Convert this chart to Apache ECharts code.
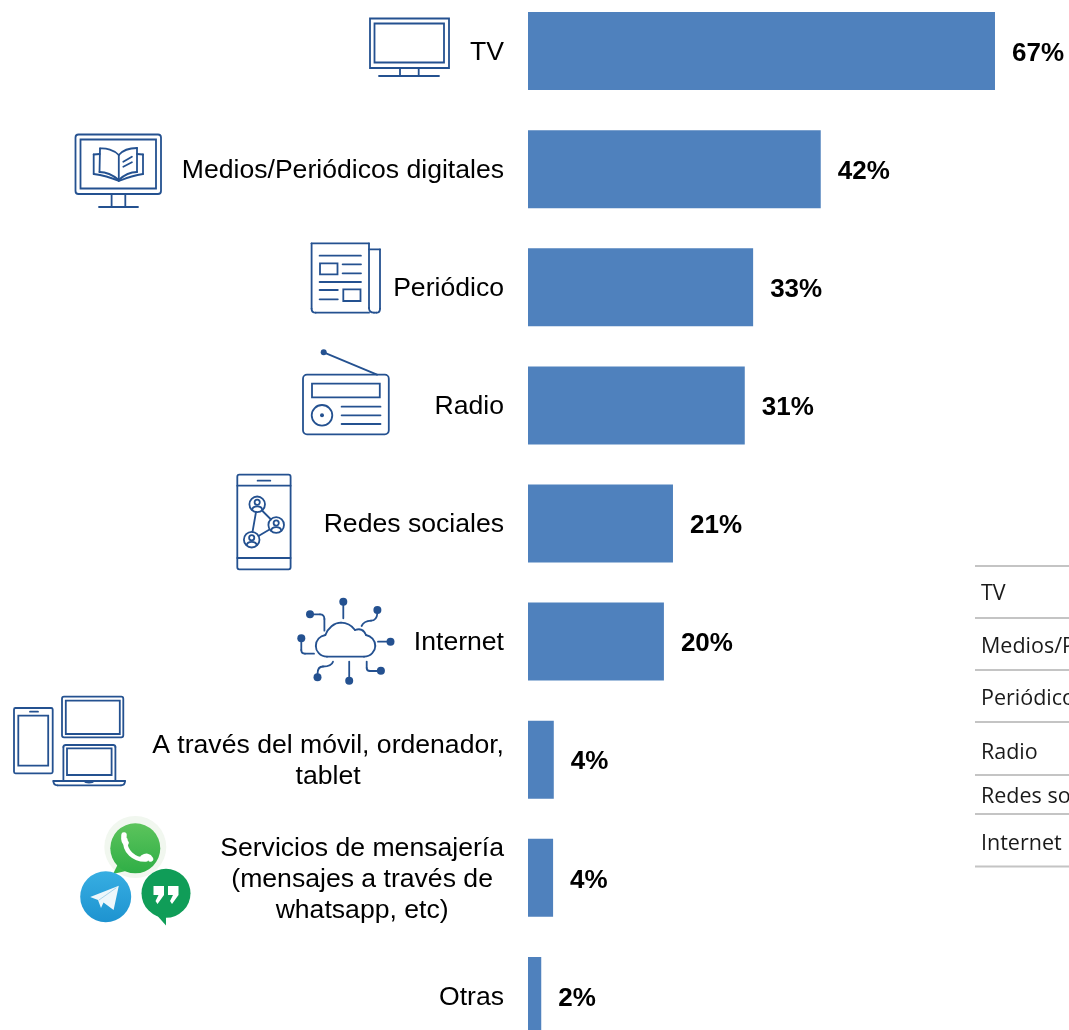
<!DOCTYPE html>
<html>
<head>
<meta charset="utf-8">
<script src="https://cdn.jsdelivr.net/npm/echarts@6/dist/echarts.min.js"></script>
<style>html,body{margin:0;padding:0;background:#fff}#c{width:1069px;height:1030px}</style>
</head>
<body>
<div id="c"></div>
<script>
const categories = ['TV','Medios/Periódicos digitales','Periódico','Radio','Redes sociales','Internet','A través del móvil, ordenador,\ntablet','Servicios de mensajería\n(mensajes a través de\nwhatsapp, etc)','Otras'];
const values = [67, 42, 32.3, 31.1, 20.8, 19.5, 3.7, 3.6, 1.9];
const valueLabels = ['67%','42%','33%','31%','21%','20%','4%','4%','2%'];
const tableRows = ['TV','Medios/Periódicos digitales','Periódico','Radio','Redes sociales','Internet'];
const tableRowY = [594, 646.5, 699, 752.5, 796.5, 844];
const tableRuleY = [566, 618, 670, 722, 775, 814, 866.5];

const ink = '#245190', LW = 1.8;
const g = [];
const st = (o) => Object.assign({stroke: ink, lineWidth: LW, fill: 'none'}, o || {});
const rect = (x,y,w,h,r) => g.push({type:'rect', silent:true, shape:{x,y,width:w,height:h,r:r||0}, style:st()});
const line = (x1,y1,x2,y2) => g.push({type:'line', silent:true, shape:{x1,y1,x2,y2}, style:st({lineCap:'round'})});
const ring = (cx,cy,r) => g.push({type:'circle', silent:true, shape:{cx,cy,r}, style:st()});
const dot = (cx,cy,r,fill) => g.push({type:'circle', silent:true, shape:{cx,cy,r}, style:{fill:fill||ink}});
const poly = (points,fill) => g.push({type:'polygon', silent:true, shape:{points}, style:{fill}});
// pts: start point, then [x,y] for a line or [c1x,c1y,c2x,c2y,x,y] for a curve
const trace = (pts, s) => { let p = pts[0];
  pts.slice(1).forEach(q => {
    if (q.length === 2) g.push({type:'line', silent:true, shape:{x1:p[0],y1:p[1],x2:q[0],y2:q[1]}, style:st(Object.assign({lineCap:'round'},s))});
    else g.push({type:'bezierCurve', silent:true, shape:{x1:p[0],y1:p[1],cpx1:q[0],cpy1:q[1],cpx2:q[2],cpy2:q[3],x2:q[4],y2:q[5]}, style:st(Object.assign({lineCap:'round'},s))});
    p = q.slice(-2);
  });
};

// TV
rect(370,18.5,79,49.5); rect(374.5,23.5,69.5,39);
line(400,68,400,76); line(418.7,68,418.7,76); line(379,76,439,76);
// Monitor + book
rect(75.5,134.5,85.5,59.5,3); rect(80.5,139.5,75.5,49);
line(111.6,194,111.6,207); line(125.3,194,125.3,207); line(99,207,138,207);
trace([[118.8,180],[118.8,155],[114,150,106,148,100,148.5],[99.5,172],[107,172,114,176,118.8,180]]);
trace([[118.8,155],[123,150,131,148,137,148],[137,172],[130,172,123,176,118.8,180]]);
trace([[99.7,154],[93.7,154.5],[93.7,174],[102,175,112,178,118.8,181],[126,178,135,175,143,174],[143,154.5],[137,154]]);
line(123.3,161.7,131.9,156.7); line(123.3,166.7,131.9,162.3);
// Newspaper
trace([[369,312.7],[315.6,312.7],[313,312.7,311.6,311,311.6,308.7],[311.6,243.3],[369,243.3],[369,308],[369,311,371,312.7,374,312.7],[376.5,312.7],[379,312.7,380,311,380,308.7],[380,249.3],[369,249.3]]);
line(319.6,255.7,360.9,255.7); rect(320,263.3,17.5,11);
line(342.6,264.3,361,264.3); line(342.6,273.3,361,273.3); line(319.6,282,361,282);
line(319.6,290,337.8,290); line(319.6,299.3,337.8,299.3); rect(343.3,289.3,17.2,11.7);
// Radio
rect(303,374.7,85.8,59.6,4); rect(312,383.7,67.8,13.6);
ring(322,415.3,10.3); dot(322,415.3,2);
line(341.6,406.7,380.5,406.7); line(341.6,415.3,380.5,415.3); line(341.6,424,380.5,424);
line(323.7,352.3,377,374.7); dot(323.7,352.3,3);
// Phone with social graph
rect(237.3,474.7,53.3,94.6,2); line(237.3,485.7,290.6,485.7); line(237.3,558,290.6,558); line(257.6,480.7,270.3,480.7);
[[257.2,504.3],[276.2,525],[251.7,539.7]].forEach(([x,y]) => {
  ring(x,y,7.8); ring(x,y-2,2.6);
  trace([[x-5,y+5.5],[x-4.5,y+1,x+4.5,y+1,x+5,y+5.5]]);
});
line(256,512,252.5,532); line(262,510.5,271,519.5); line(269.5,529.5,258.5,536);
// Cloud network
trace([[327,656.7],[320,656.7,315.8,651,315.8,646],[315.8,640,320,636,325.4,635],[328,628,334,622.7,341,622.7],[347,622.7,352,626,355,630],[360,628,364,630,366,635],[371,636,375.3,640,375.3,646],[375.3,651,371,656.7,364,656.7],[327,656.7]]);
const n = (x,y) => dot(x,y,4);
n(343.3,601.7); line(343.3,604,343.3,618.3);
n(377.4,610); trace([[377.4,613],[377,618,375,620.7,371,620.7],[365,621,363,623,361.6,626]]);
n(310,614.3); trace([[312,614.3],[320,614.3],[323,614.3,324.4,616,324.4,619],[324.4,630.7]]);
n(301.3,638.3); trace([[301.3,641],[301.3,650],[301.3,652.5,303,653.7,305,653.7],[314,653.7]]);
n(390.5,641.7); line(378,641.7,388,641.7);
n(349.2,680.7); line(349.2,661.7,349.2,678);
n(317.5,677.3); trace([[317.5,674],[317.5,669,319,666.5,323,666.5],[329,666.5,332,665,333,661.7]]);
n(380.9,670.7); trace([[366.7,661.7],[366.7,668],[366.7,670,368,671,370,671],[377,671]]);
// Devices
rect(14,708,38.7,65.3,1.5); rect(18.3,715.7,29.9,50); line(30,711.7,38,711.7);
rect(62,696.7,61.3,40.6,2); rect(65.8,700.7,54,33.3);
trace([[63.4,781],[63.4,747],[63.4,745.6,64.5,745,66,745],[113,745],[114.5,745,115.4,745.6,115.4,747],[115.4,781]]);
rect(67,748.3,44.6,26.7);
trace([[53.4,781],[125,781],[125,783.5,123.5,785.3,121,785.3],[57.5,785.3],[55,785.3,53.4,783.5,53.4,781]]);
trace([[84.4,781],[85.5,783,92.5,783,93.7,781]]);
// Messaging logos
const vg = (a,b) => new echarts.graphic.LinearGradient(0,0,0,1,[{offset:0,color:a},{offset:1,color:b}]);
g.push({type:'circle',silent:true,shape:{cx:135.3,cy:847,r:31},style:{fill:'#f1f7ef'}});
poly([[119,862],[113,874],[130,870]], '#3bb54a');
g.push({type:'circle',silent:true,shape:{cx:135.3,cy:848.3,r:25},style:{fill:vg('#5cc45c','#2fae46')}});
trace([[125.5,840],[124,851,134,860,146,859.5]],{stroke:'#fff',lineWidth:4.5,lineCap:'round'});
trace([[124,835],[123.5,840,124,842,126,843]],{stroke:'#fff',lineWidth:5.5});
trace([[143,857.5],[146,855.5,149,856,150.5,859]],{stroke:'#fff',lineWidth:5.5});
g.push({type:'circle',silent:true,shape:{cx:105.7,cy:896.7,r:25.5},style:{fill:vg('#37aee2','#1e93d0')}});
poly([[90.2,897],[118.8,885.7],[113.6,910],[103.5,902.5],[101,908],[98,900]], '#eef7fb');
trace([[99,900],[116,888]],{stroke:'#a9d4ea',lineWidth:1});
g.push({type:'circle',silent:true,shape:{cx:166,cy:893.3,r:24.5},style:{fill:'#109d58'}});
poly([[154,912],[166,925.5],[166,914]], '#109d58');
[153.5,168].forEach(x => poly([[x,886],[x+10.5,886],[x+10.5,895],[x+4,904],[x+2,901],[x+5,895],[x,895]], '#fff'));
// Table fragment at the right edge
tableRuleY.forEach(y => g.push({type:'line',silent:true,shape:{x1:975,y1:y,x2:1069,y2:y},style:{stroke:'#c4c4c4',lineWidth:2}}));
tableRows.forEach((t,i) => g.push({type:'text',silent:true,x:981,y:tableRowY[i],style:{text:t,fill:'#1a1a1a',font:'21.5px "Open Sans"',textAlign:'left',textVerticalAlign:'middle'}}));

const font = '"Liberation Sans"', size = 26.6;
const chart = echarts.init(document.getElementById('c'), null, {renderer:'canvas'});
chart.setOption({
  animation:false,
  backgroundColor:'#fff',
  grid:{left:528, top:-8, width:697, height:1063, outerBoundsMode:'none'},
  xAxis:{type:'value', min:0, max:100, show:false},
  yAxis:{type:'category', inverse:true, data:categories,
    axisLine:{show:false}, axisTick:{show:false},
    axisLabel:{interval:0, margin:24, color:'#000', padding:[3,0,0,0],
      formatter:(v)=>v.split('\n').map(s=>'{c|'+s+'}').join('\n'),
      rich:{c:{align:'center', fontFamily:font, fontSize:size, lineHeight:31, color:'#000'}}}},
  series:[{type:'bar', data:values, barWidth:78, itemStyle:{color:'#4f81bd'},
    label:{show:true, position:'right', distance:17, offset:[0,2.5], color:'#000', fontFamily:font, fontSize:26, fontWeight:'bold',
      formatter:(p)=>valueLabels[p.dataIndex]}}],
  graphic:{elements:g}
});
</script>
</body>
</html>
